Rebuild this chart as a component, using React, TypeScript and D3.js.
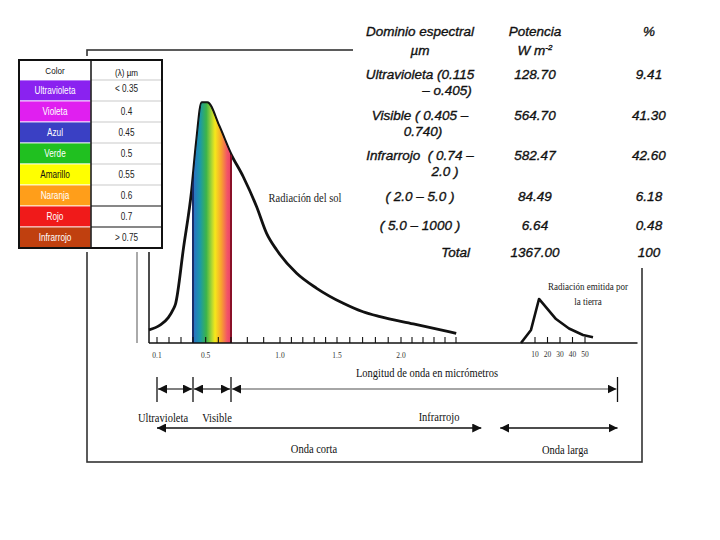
import React from "react";
import * as d3 from "d3";

// ---- Left colour table ----
const colorNames = ["Ultravioleta", "Violeta", "Azul", "Verde", "Amarillo", "Naranja", "Rojo", "Infrarrojo"];
const colorFills = ["#8a22f0", "#e01ff0", "#3a40c4", "#20c020", "#ffff00", "#ff9e1a", "#f01a1a", "#c0400f"];
const colorTextFills = ["#fff", "#fff", "#fff", "#fff", "#111", "#fff", "#fff", "#fff"];
const colorWavelengths = ["< 0.35", "0.4", "0.45", "0.5", "0.55", "0.6", "0.7", "> 0.75"];

// ---- Right table ----
const domainRows = [
  ["Ultravioleta (0.115", "– o.405)"],
  ["Visible ( 0.405 –", "0.740)"],
  ["Infrarrojo  ( 0.74 –", "2.0 )"],
  ["( 2.0 – 5.0 )"],
  ["( 5.0 – 1000 )"],
];
const potencia = ["128.70", "564.70", "582.47", "84.49", "6.64"];
const porcentaje = ["9.41", "41.30", "42.60", "6.18", "0.48"];
const totalPotencia = "1367.00";
const totalPorcentaje = "100";

// ---- Spectrum curves (wavelength µm, relative intensity) ----
const sunWavelength = [0.033, 0.125, 0.194, 0.236, 0.254, 0.321, 0.389, 0.429, 0.469, 0.513, 0.605, 0.692, 0.775, 0.857, 0.918, 0.98, 1.146, 1.322, 1.549, 1.703, 1.836, 2.112, 2.521];
const sunIntensity = [5.4, 7.4, 10.5, 14.0, 16.1, 39.3, 63.2, 83.9, 99.3, 99.3, 89.7, 78.9, 68.7, 56.3, 45.3, 38.4, 28.8, 22.6, 16.4, 12.9, 10.9, 7.9, 4.0];
const earthWavelength = [8.67, 9.62, 13.2, 26.8, 37.2, 48.4, 56.4];
const earthIntensity = [0, 5.4, 18.2, 9.9, 6.0, 3.3, 2.4];

const visibleBand = [0.4, 0.7];
const axisKnots = [0.1, 0.4, 0.7, 1.0, 1.5, 2.0, 2.5, 10, 50];
const sunTickValues = d3.range(1, 26).map((i) => i / 10);
const earthTickValues = [10, 20, 30, 40, 50];
const sunLabelValues = [0.1, 0.5, 1.0, 1.5, 2.0];
const sunLabels = ["0.1", "0.5", "1.0", "1.5", "2.0"];
const earthLabels = ["10", "20", "30", "40", "50"];

// bands (µm)
const bandEdges = [0.1, 0.4, 0.7, 76];
const bandNames = ["Ultravioleta", "Visible", "Infrarrojo"];
const waveRanges = [[0.1, 4.9], [6.7, 76]];
const waveNames = ["Onda corta", "Onda larga"];

const serif = "'Liberation Serif', 'DejaVu Serif', serif";
const sans = "'Liberation Sans', Arial, sans-serif";

function STxt({ x, y, size, children, fill = "#111" }: { x: number; y: number; size: number; children: React.ReactNode; fill?: string }) {
  return (
    <g transform={`translate(${x},${y}) scale(1,1.2)`}>
      <text textAnchor="middle" fontFamily={serif} fontSize={size} fill={fill}>{children}</text>
    </g>
  );
}

export default function App() {
  const x = d3.scaleLinear().domain(axisKnots).range([157, 193, 231, 280, 337, 401, 456, 535, 585]);
  const y = d3.scaleLinear().domain([0, 100]).range([343, 101]);
  const axisY = y(0);

  const sunPts: [number, number][] = sunWavelength.map((w, i) => [w, sunIntensity[i]]);
  const earthPts: [number, number][] = earthWavelength.map((w, i) => [w, earthIntensity[i]]);

  const line = d3.line<[number, number]>().x((d) => x(d[0])).y((d) => y(d[1])).curve(d3.curveMonotoneX);
  const area = d3.area<[number, number]>().x((d) => x(d[0])).y0(axisY).y1((d) => y(d[1])).curve(d3.curveMonotoneX);
  const earthLine = d3.line<[number, number]>().x((d) => x(d[0])).y((d) => y(d[1])).curve(d3.curveLinear);

  const vx0 = x(visibleBand[0]);
  const vx1 = x(visibleBand[1]);

  const arrowY1 = 389;
  const arrowY2 = 428;

  // left table geometry
  const tX0 = 19, tX1 = 91, tX2 = 162, tY0 = 60, headH = 20, rowH = 21;
  const tY1 = tY0 + headH + colorNames.length * rowH;

  const rowCY = [74.3, 115, 155.7, 196.7, 225];
  const secondLineX = [447, 423, 445];
  const c1 = 420, c2 = 535, c3 = 649;

  const rt = { fontFamily: sans, fontStyle: "italic" as const, fontSize: 13.5, fill: "#111", stroke: "#111", strokeWidth: 0.35, whiteSpace: "pre" as const };

  return (
    <svg width={720} height={540} style={{ position: "absolute", left: 0, top: 0, background: "#fff" }}>
      <defs>
        <linearGradient id="spec" x1="0" x2="1" y1="0" y2="0">
          <stop offset="0%" stopColor="#2d6cc6" />
          <stop offset="18%" stopColor="#1a98aa" />
          <stop offset="35%" stopColor="#3cb44a" />
          <stop offset="50%" stopColor="#b6d832" />
          <stop offset="58%" stopColor="#f6e81a" />
          <stop offset="75%" stopColor="#f8a030" />
          <stop offset="90%" stopColor="#f25468" />
          <stop offset="100%" stopColor="#ea4262" />
        </linearGradient>
        <clipPath id="underSun">
          <path d={area(sunPts) || ""} />
        </clipPath>
        <clipPath id="visBand">
          <rect x={vx0} y={0} width={vx1 - vx0} height={540} />
        </clipPath>
        <marker id="ah" viewBox="0 0 10 10" refX="10" refY="5" markerWidth="9" markerHeight="9" markerUnits="userSpaceOnUse" orient="auto-start-reverse">
          <path d="M0,0 L10,5 L0,10 Z" fill="#111" />
        </marker>
      </defs>

      {/* frame */}
      <rect x={87} y={50} width={555} height={412} fill="none" stroke="#333" strokeWidth={1.6} />
      <rect x={353} y={0} width={367} height={268} fill="#fff" />

      {/* left guide lines */}
      <line x1={137} x2={137} y1={150} y2={axisY} stroke="#aaa" strokeWidth={2} />
      <line x1={149} x2={149} y1={150} y2={axisY} stroke="#111" strokeWidth={1.5} />

      {/* sun curve */}
      <path d={line(sunPts) || ""} fill="none" stroke="#111" strokeWidth={2.8} strokeLinejoin="round" />
      <g clipPath="url(#underSun)">
        <rect x={vx0} y={y(100) - 5} width={vx1 - vx0} height={axisY - y(100) + 5} fill="url(#spec)" />
        <line x1={vx0} x2={vx0} y1={0} y2={axisY} stroke="#1b2d6a" strokeWidth={2} />
        <line x1={vx1} x2={vx1} y1={0} y2={axisY} stroke="#8a1028" strokeWidth={2} />
      </g>
      <g clipPath="url(#visBand)">
        <path d={line(sunPts) || ""} fill="none" stroke="#111" strokeWidth={1.1} />
      </g>

      {/* earth curve */}
      <path d={earthLine(earthPts) || ""} fill="none" stroke="#111" strokeWidth={2.6} strokeLinejoin="round" />

      {/* axis */}
      <line x1={x(sunWavelength[0])} x2={x(92)} y1={axisY} y2={axisY} stroke="#111" strokeWidth={1.6} />
      {[...sunTickValues, ...earthTickValues].map((t) => (
        <line key={"t" + t} x1={x(t)} x2={x(t)} y1={axisY} y2={axisY - 6} stroke="#111" strokeWidth={1.1} />
      ))}
      {sunLabelValues.map((v, i) => (
        <STxt key={"sl" + i} x={x(v)} y={358} size={7.5} fill="#333">{sunLabels[i]}</STxt>
      ))}
      {earthTickValues.map((v, i) => (
        <STxt key={"el" + i} x={x(v)} y={357} size={7.5} fill="#333">{earthLabels[i]}</STxt>
      ))}

      {/* curve labels */}
      <STxt x={305} y={202} size={10.5} fill="#222">Radiación del sol</STxt>
      <STxt x={588} y={290} size={9} fill="#222">Radiación emitida por</STxt>
      <STxt x={588} y={305} size={9} fill="#222">la tierra</STxt>
      <STxt x={427} y={377} size={10.5}>Longitud de onda en micrómetros</STxt>

      {/* band arrows */}
      {bandEdges.map((e, i) => (
        <line key={"be" + i} x1={x(e)} x2={x(e)} y1={arrowY1 - 12} y2={arrowY1 + 13} stroke="#111" strokeWidth={1.3} />
      ))}
      {bandNames.map((n, i) => (
        <line key={"ba" + i} x1={x(bandEdges[i]) + 1} x2={x(bandEdges[i + 1]) - 1} y1={arrowY1} y2={arrowY1}
          stroke={i < 2 ? "#555" : "#888"} strokeWidth={1.4} markerStart="url(#ah)" markerEnd="url(#ah)" />
      ))}
      <STxt x={163} y={422} size={10.5}>{bandNames[0]}</STxt>
      <STxt x={217} y={422} size={10.5}>{bandNames[1]}</STxt>
      <STxt x={439} y={421} size={10.5}>{bandNames[2]}</STxt>

      {waveRanges.map((r, i) => (
        <line key={"wr" + i} x1={x(r[0])} x2={x(r[1])} y1={arrowY2} y2={arrowY2} stroke="#111" strokeWidth={1.5}
          markerStart="url(#ah)" markerEnd="url(#ah)" />
      ))}
      <STxt x={314} y={453} size={10.5}>{waveNames[0]}</STxt>
      <STxt x={565} y={454} size={10.5}>{waveNames[1]}</STxt>

      {/* left colour table */}
      <rect x={15} y={56} width={151} height={tY1 - 56 + 4} fill="#fff" />
      {colorNames.map((n, i) => (
        <rect key={"cf" + i} x={tX0} y={tY0 + headH + i * rowH} width={tX1 - tX0} height={rowH} fill={colorFills[i]} stroke="#fff" strokeWidth={0.8} />
      ))}
      {colorNames.map((n, i) => (
        <line key={"cl" + i} x1={tX1} x2={tX2} y1={tY0 + headH + i * rowH} y2={tY0 + headH + i * rowH}
          stroke={i >= 6 ? "#111" : "#bbb"} strokeWidth={i >= 6 ? 1.2 : 0.8} />
      ))}
      <line x1={tX1} x2={tX1} y1={tY0} y2={tY1} stroke="#111" strokeWidth={1.5} />
      <rect x={tX0} y={tY0} width={tX2 - tX0} height={tY1 - tY0} fill="none" stroke="#111" strokeWidth={2} />
      <g transform={`translate(${(tX0 + tX1) / 2},${tY0 + 14}) scale(0.85,1)`}>
        <text textAnchor="middle" fontFamily={sans} fontSize={9.5} fill="#111">Color</text>
      </g>
      <g transform={`translate(${(tX1 + tX2) / 2},${tY0 + 16}) scale(0.85,1)`}>
        <text textAnchor="middle" fontFamily={sans} fontSize={9.5} fill="#111">(λ) µm</text>
      </g>
      {colorNames.map((n, i) => (
        <g key={"cn" + i} transform={`translate(${(tX0 + tX1) / 2},${tY0 + headH + i * rowH + rowH / 2 + 3.5}) scale(0.82,1)`}>
          <text textAnchor="middle" fontFamily={sans} fontSize={10} fill={colorTextFills[i]}>{n}</text>
        </g>
      ))}
      {colorWavelengths.map((v, i) => (
        <g key={"cw" + i} transform={`translate(${(tX1 + tX2) / 2},${tY0 + headH + i * rowH + rowH / 2 + (i === 0 ? 1 : 3.5)}) scale(0.82,1)`}>
          <text textAnchor="middle" fontFamily={sans} fontSize={10} fill="#222">{v}</text>
        </g>
      ))}

      {/* right table */}
      <text x={c1} y={36} textAnchor="middle" style={rt}>Dominio espectral</text>
      <text x={c1} y={55} textAnchor="middle" style={rt}>µm</text>
      <text x={c2} y={36} textAnchor="middle" style={rt}>Potencia</text>
      <text x={c2} y={55} textAnchor="middle" style={rt}>
        W m<tspan fontSize={8} dy={-5}>-2</tspan>
      </text>
      <text x={c3} y={36} textAnchor="middle" style={rt}>%</text>
      {domainRows.map((lines, i) => (
        <g key={"dr" + i}>
          <text x={c1} y={rowCY[i] + 4.5} textAnchor="middle" style={rt}>{lines[0]}</text>
          {lines[1] && (
            <text x={secondLineX[i]} y={rowCY[i] + 20.5} textAnchor="middle" style={rt}>{lines[1]}</text>
          )}
          <text x={c2} y={rowCY[i] + 4.5} textAnchor="middle" style={rt}>{potencia[i]}</text>
          <text x={c3} y={rowCY[i] + 4.5} textAnchor="middle" style={rt}>{porcentaje[i]}</text>
        </g>
      ))}
      <text x={470} y={256.8} textAnchor="end" style={rt}>Total</text>
      <text x={c2} y={256.8} textAnchor="middle" style={rt}>{totalPotencia}</text>
      <text x={c3} y={256.8} textAnchor="middle" style={rt}>{totalPorcentaje}</text>
    </svg>
  );
}
